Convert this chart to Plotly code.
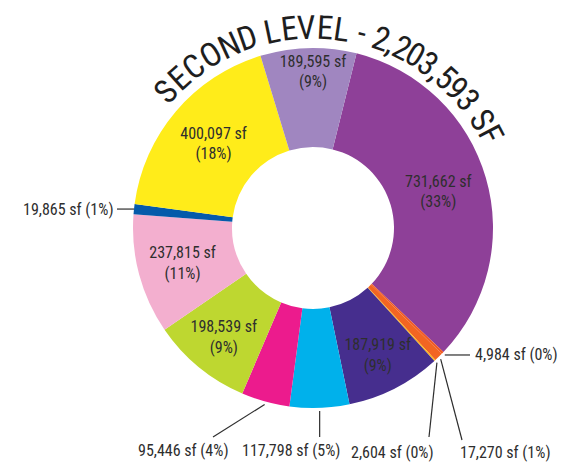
import math
import plotly.graph_objects as go

# Second level floor area by use, in clockwise order from the top
areas = [731662, 4984, 17270, 2604, 187919, 117798, 95446, 198539,
         237815, 19865, 400097, 189595]
colors = ["#8E4098", "#F15A24", "#F26522", "#FDB913", "#462E8E", "#00B1EB",
          "#EC1B8D", "#BED730", "#F3AFCF", "#055AAA", "#FFEC1A", "#A086C0"]
inside = [True, False, False, False, True, False, False, True,
          True, False, True, True]
title_text = "SECOND LEVEL - 2,203,593 SF"

W, H = 577, 474
CX, CY, R = 313, 228, 180
HOLE = 0.45
START = 14  # first slice starts this many degrees clockwise of 12 o'clock
FONT = "Roboto Condensed, DejaVu Sans Condensed, sans-serif"
INK = "#2e2e2e"
LABEL_SIZE = 16

total = sum(areas)


def px(x, y):
    return x / W, 1 - y / H


def polar(angle_deg, r):
    a = math.radians(angle_deg)
    return CX + r * math.sin(a), CY - r * math.cos(a)


def label(v):
    return f"{v:,} sf ({v / total:.0%})"


# mid angles of each slice
mids = []
acc = START
for v in areas:
    span = v / total * 360
    mids.append(acc + span / 2)
    acc += span

fig = go.Figure(go.Pie(
    values=areas,
    sort=False,
    direction="clockwise",
    rotation=START,
    hole=HOLE,
    marker=dict(colors=colors, line=dict(width=0)),
    texttemplate=[("%{value:,} sf<br>(%{percent:.0%})" if k else "") for k in inside],
    textposition=["inside" if k else "none" for k in inside],
    insidetextorientation="horizontal",
    textfont=dict(family=FONT, size=LABEL_SIZE, color=INK),
    hoverinfo="skip",
    showlegend=False,
    domain=dict(x=[(CX - R) / W, (CX + R) / W],
                y=[1 - (CY + R) / H, 1 - (CY - R) / H]),
))

annotations = []
shapes = []

# leader lines and outside labels for the narrow slices
# (slice index, end of leader line, text anchor point, xanchor)
callouts = [
    (9, (117, None), (116, None), "right"),
    (1, (470, None), (473, None), "left"),
    (2, (462, 440), (505, 452), "center"),
    (3, (429, 437), (392, 452), "center"),
    (5, (None, 437), (291, 450), "center"),
    (6, (213, 437), (183, 450), "center"),
]
for idx, end, txt, anchor in callouts:
    r_tip = R if idx == 9 else R + 3
    tx, ty = polar(mids[idx], r_tip)
    ex = tx if end[0] is None else end[0]
    ey = ty if end[1] is None else end[1]
    x0, y0 = px(tx, ty)
    x1, y1 = px(ex, ey)
    shapes.append(dict(type="line", xref="paper", yref="paper",
                       x0=x0, y0=y0, x1=x1, y1=y1,
                       line=dict(color=INK, width=1.2)))
    lx = txt[0]
    ly = ty if txt[1] is None else txt[1]
    ax_, ay_ = px(lx, ly)
    annotations.append(dict(x=ax_, y=ay_, xref="paper", yref="paper",
                            text=label(areas[idx]), showarrow=False,
                            xanchor=anchor, yanchor="middle",
                            font=dict(family=FONT, size=LABEL_SIZE, color=INK)))

# arched title, one character at a time along a circle around the donut
widths = {"S": .547, "E": .547, "C": .592, "O": .638, "N": .592, "D": .592,
          " ": .228, "L": .456, "V": .547, "-": .273, ",": .228, "F": .501}
w = [widths.get(ch, .456) for ch in title_text]
centers = []
pos = 0.0
for cw in w:
    centers.append(pos + cw / 2)
    pos += cw
A0, A1, RT = -47.2, 62.3, 201
for ch, c in zip(title_text, centers):
    if ch == " ":
        continue
    ang = A0 + (c - centers[0]) / (centers[-1] - centers[0]) * (A1 - A0)
    x, y = px(*polar(ang, RT))
    annotations.append(dict(x=x, y=y, xref="paper", yref="paper", text=ch,
                            showarrow=False, textangle=ang,
                            xanchor="center", yanchor="middle",
                            font=dict(family=FONT, size=33, weight=400,
                                      color="#1e1e1e")))

fig.update_layout(
    width=W, height=H,
    margin=dict(l=0, r=0, t=0, b=0),
    paper_bgcolor="white", plot_bgcolor="white",
    uniformtext=dict(mode="show", minsize=LABEL_SIZE),
    annotations=annotations, shapes=shapes,
)
fig.write_html("out.html")
